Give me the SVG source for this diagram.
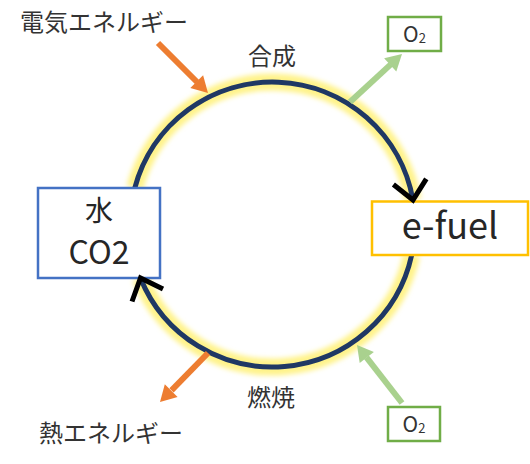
<svg xmlns="http://www.w3.org/2000/svg" width="530" height="464" viewBox="0 0 530 464">
<style>
text{font-family:"Noto Sans CJK JP","Noto Sans",sans-serif;fill:#333;text-anchor:middle}
.lbl{font-size:24px}
.big{font-size:33px;fill:#262626}
.o2{font-size:21px}
.sub{font-size:13px}
.box{fill:#fff;stroke-width:2.5}
.glow{fill:none;stroke:#fff38a;stroke-width:17;filter:url(#blur)}
.ring{fill:none;stroke:#1f3864;stroke-width:5}
.chev{fill:none;stroke:#000;stroke-width:5;stroke-linejoin:miter}
.orange{stroke:#ed7d31;stroke-width:6;fill:none}
.green{stroke:#a9d18e;stroke-width:6;fill:none}
</style>
<defs>
<filter id="blur" x="-20%" y="-20%" width="140%" height="140%"><feGaussianBlur stdDeviation="2.5"/></filter>
</defs>
<g id="connectors">
<path class="glow" d="M134.8,188 A142.5,142.5 0 0 1 412.9,200"/>
<path class="glow" d="M411.7,255 A142.5,142.5 0 0 1 140.4,278"/>
<path class="ring" d="M134.8,188 A142.5,142.5 0 0 1 412.9,200"/>
<path class="ring" d="M411.7,255 A142.5,142.5 0 0 1 140.4,278"/>
<line class="orange" x1="158" y1="43" x2="197" y2="82"/>
<polygon fill="#ed7d31" points="208,93 190.3,88.1 203.1,75.3"/>
<line class="orange" x1="208" y1="353" x2="171.5" y2="390.3"/>
<polygon fill="#ed7d31" points="160,402 164.8,384.3 177.6,396.9"/>
<line class="green" x1="350" y1="102" x2="390.5" y2="64.6"/>
<polygon fill="#a9d18e" points="402,54 396.3,71.4 384.1,58.2"/>
<line class="green" x1="402" y1="403" x2="366.5" y2="357.3"/>
<polygon fill="#a9d18e" points="357,345 373.9,352.1 359.7,363.1"/>
</g>
<g id="node-water">
<rect class="box" x="38" y="188" width="122" height="90" stroke="#4472c4" stroke-width="2"/>
<text class="big" x="99" y="221" style="font-size:28px">水</text>
<text class="big" x="99" y="264" style="font-size:32px">CO2</text>
</g>
<g id="node-efuel">
<rect class="box" x="372" y="201.5" width="156" height="53.5" stroke="#ffc000"/>
<text class="big" x="450" y="239" style="font-size:36px">e-fuel</text>
</g>
<g id="node-o2-top">
<rect class="box" x="388" y="17" width="53" height="34" stroke="#70ad47"/>
<text class="o2" x="414.5" y="42"><tspan>O</tspan><tspan class="sub" dy="1">2</tspan></text>
</g>
<g id="node-o2-bottom">
<rect class="box" x="388" y="407" width="52" height="34" stroke="#70ad47"/>
<text class="o2" x="414" y="432"><tspan>O</tspan><tspan class="sub" dy="1">2</tspan></text>
</g>
<g id="chevrons">
<polyline class="chev" points="393.4,184.5 413,200 426.3,178.8"/>
<polyline class="chev" points="163,289 140.5,278 132,301.5"/>
</g>
<g id="labels">
<text class="lbl" x="104" y="30.5">電気エネルギー</text>
<text class="lbl" x="272" y="65">合成</text>
<text class="lbl" x="271" y="406">燃焼</text>
<text class="lbl" x="111" y="441.5">熱エネルギー</text>
</g>
</svg>
